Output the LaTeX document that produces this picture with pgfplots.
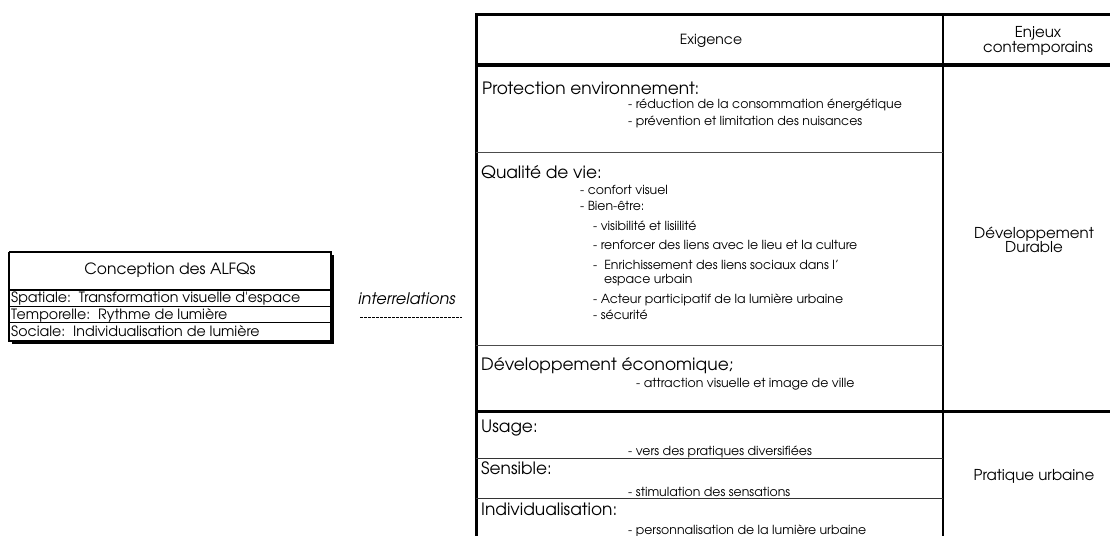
\documentclass[border=0pt]{standalone}
\usepackage{fontspec}
\setmainfont{texgyreadventor}[Extension=.otf,UprightFont=*-regular,ItalicFont=*-italic,BoldFont=*-bold,BoldItalicFont=*-bolditalic]
\usepackage{pgfplots}
\pgfplotsset{compat=1.18}
\newcommand\hd{\fontsize{17}{19}\selectfont}
\newcommand\rc{\fontsize{15}{16}\selectfont}
\newcommand\lb{\fontsize{14.2}{15}\selectfont}
\newcommand\sm{\fontsize{12.5}{14}\selectfont}
\begin{document}
\begin{tikzpicture}
\begin{axis}[width=1110pt,height=535pt,scale only axis,xmin=0,xmax=1110,ymin=0,ymax=535,y dir=reverse,hide axis,clip=false]
% ---- left box
\addplot[fill=black,draw=none] coordinates {(12,255)(334,255)(334,344)(12,344)};
\addplot[fill=white,draw=black,line width=2pt] coordinates {(9,252)(331,252)(331,341)(9,341)(9,252)};
\addplot[black,line width=2.2pt] coordinates {(9,290)(331,290)};
\addplot[black,line width=0.9pt] coordinates {(9,306.5)(331,306.5)};
\addplot[black,line width=0.9pt] coordinates {(9,322.5)(331,322.5)};
\node[anchor=center,font=\fontsize{15.5}{16}\selectfont] at (axis cs:170,270) {Conception des ALFQs};
\node[anchor=west,inner sep=0pt,font=\lb] at (axis cs:11,299) {Spatiale:\ \ Transformation visuelle d\textquotesingle espace};
\node[anchor=west,inner sep=0pt,font=\lb] at (axis cs:11,315) {Temporelle:\ \ Rythme de lumière};
\node[anchor=west,inner sep=0pt,font=\lb] at (axis cs:11,331) {Sociale:\ \ Individualisation de lumière};
% ---- interrelations
\node[anchor=west,inner sep=0pt,font=\fontsize{16}{17}\selectfont\itshape] at (axis cs:358,299) {interrelations};
\addplot[black,line width=0.6pt,dash pattern=on 2.6pt off 1.4pt] coordinates {(360,317)(462,317)};
% ---- right table
\addplot[black,line width=3pt] coordinates {(476,536)(476,15)(1112,15)};
\addplot[black,line width=3pt] coordinates {(476,65)(1112,65)};
\addplot[black,line width=1.2pt] coordinates {(943,15)(943,536)};
\addplot[black!70,line width=1pt] coordinates {(476,152)(943,152)};
\addplot[black!70,line width=1pt] coordinates {(476,345)(943,345)};
\addplot[black,line width=3pt] coordinates {(476,411)(1112,411)};
\addplot[black!80,line width=1pt] coordinates {(476,458)(943,458)};
\addplot[black!80,line width=1pt] coordinates {(476,498)(943,498)};
% header
\node[font=\fontsize{14}{15}\selectfont] at (axis cs:711,41) {Exigence};
\node[font=\rc,align=center] at (axis cs:1038,41) {Enjeux\\[-1.5pt]contemporains};
% Protection
\node[anchor=west,inner sep=0pt,font=\hd] at (axis cs:482,88) {Protection environnement:};
\node[anchor=west,inner sep=0pt,font=\sm] at (axis cs:628,105) {- réduction de la consommation énergétique};
\node[anchor=west,inner sep=0pt,font=\sm] at (axis cs:628,122) {- prévention et limitation des nuisances};
% Qualite
\node[anchor=west,inner sep=0pt,font=\hd] at (axis cs:481,172) {Qualité de vie:};
\node[anchor=west,inner sep=0pt,font=\sm] at (axis cs:580,190) {- confort visuel};
\node[anchor=west,inner sep=0pt,font=\sm] at (axis cs:580,206) {- Bien-être:};
\node[anchor=west,inner sep=0pt,font=\sm] at (axis cs:593,226) {- visibilité et lisiilité};
\node[anchor=west,inner sep=0pt,font=\sm] at (axis cs:593,245) {- renforcer des liens avec le lieu et la culture};
\node[anchor=west,inner sep=0pt,font=\sm] at (axis cs:593,265) {-\ \ Enrichissement des liens sociaux dans l'};
\node[anchor=west,inner sep=0pt,font=\sm] at (axis cs:604,280) {espace urbain};
\node[anchor=west,inner sep=0pt,font=\sm] at (axis cs:593,300) {- Acteur participatif de la lumière urbaine};
\node[anchor=west,inner sep=0pt,font=\sm] at (axis cs:593,315) {- sécurité};
% Developpement
\node[anchor=west,inner sep=0pt,font=\hd] at (axis cs:481,366) {Développement économique;};
\node[anchor=west,inner sep=0pt,font=\sm] at (axis cs:636,384) {- attraction visuelle et image de ville};
\node[font=\rc,align=center] at (axis cs:1034,240) {Développement\\[-1.5pt]Durable};
% pratique
\node[anchor=west,inner sep=0pt,font=\hd] at (axis cs:481,428) {Usage:};
\node[anchor=west,inner sep=0pt,font=\sm] at (axis cs:628,452) {- vers des pratiques diversifiées};
\node[anchor=west,inner sep=0pt,font=\hd] at (axis cs:481,468) {Sensible:};
\node[anchor=west,inner sep=0pt,font=\sm] at (axis cs:628,492) {- stimulation des sensations};
\node[anchor=west,inner sep=0pt,font=\hd] at (axis cs:481,509) {Individualisation:};
\node[anchor=west,inner sep=0pt,font=\sm] at (axis cs:628,531) {- personnalisation de la lumière urbaine};
\node[font=\rc] at (axis cs:1034,476) {Pratique urbaine};
\end{axis}
\pgfresetboundingbox
\path (0,0) rectangle (1110pt,535pt);
\end{tikzpicture}
\end{document}
